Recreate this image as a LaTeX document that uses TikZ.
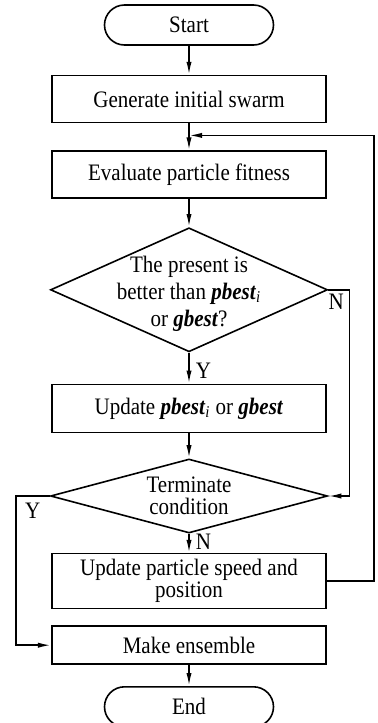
\documentclass[tikz,border=0pt]{standalone}
\usepackage{fontspec}
\setmainfont{Liberation Serif}[FakeStretch=0.89]
\usepackage{tikz}
\usetikzlibrary{arrows.meta, positioning, shapes.geometric}

\begin{document}
\begin{tikzpicture}[
      box/.style={draw, line width=0.8pt, font=\fontsize{11.8pt}{11pt}\selectfont, minimum width=137.25pt, minimum height=23.5pt, align=center, inner sep=1pt},
      term/.style={box, rounded corners=10pt, minimum width=84.5pt, minimum height=20pt},
      decision/.style={box, diamond, minimum width=138.5pt, inner sep=-6pt},
      lbl/.style={font=\fontsize{11.8pt}{11pt}\selectfont, inner sep=3pt},
      arrow/.style={-{Latex[length=6.5pt, width=2.6pt]}, line width=0.8pt}
    ]
    \useasboundingbox (0,0) rectangle (189pt,-361.5pt);

    \node[term] (start) at (94.5pt,-12.5pt) {Start};
    \node[box] (gen) [below=14.5pt of start] {Generate initial swarm};
    \node[box] (eval) [below=13.5pt of gen] {Evaluate particle fitness};
    \node[decision, aspect=2.23, minimum height=62pt, font=\fontsize{11.8pt}{13.5pt}\selectfont] (better) [below=14pt of eval]
      {\rule{0pt}{12pt}The present is\\ better than \textbf{\textit{pbest}}\textsubscript{\textit{i}}\\ or \textbf{\textit{gbest}}?};
    \node[box, minimum height=24pt] (upbest) [below=15.5pt of better] {Update \textbf{\textit{pbest}}\textsubscript{\textit{i}} or \textbf{\textit{gbest}}};
    \node[decision, aspect=3.74, minimum height=37pt] (stop) [below=12.5pt of upbest] {Terminate\\ condition};
    \node[box, minimum height=27.5pt] (move) [below=9.5pt of stop] {Update particle speed and\\ position};
    \node[box, minimum height=19pt] (ens) [below=8pt of move] {Make ensemble};
    \node[term] (end) [below=10.5pt of ens] {End};
    \coordinate[below=6pt of gen] (join);

    \draw[arrow] (start) -- (gen);
    \draw[arrow] (gen) -- (eval);
    \draw[arrow] (eval) -- (better);
    \draw[arrow] (better) -- node[lbl, right, pos=0.58] {Y} (upbest);
    \draw[arrow] (better.east) -- node[lbl, below, inner sep=1.5pt, pos=0.38] {N} ++(10.5pt,0) |- (stop.east);
    \draw[arrow] (upbest) -- (stop);
    \draw[arrow] (stop) -- node[lbl, right, pos=0.4] {N} (move);
    \draw[arrow] (stop.west) -- node[lbl, below, inner sep=3pt] {Y} ++(-17pt,0) |- (ens.west);
    \draw[arrow] (move.east) -- ++(23.5pt,0) |- (join);
    \draw[arrow] (ens) -- (end);

\end{tikzpicture}
\end{document}
